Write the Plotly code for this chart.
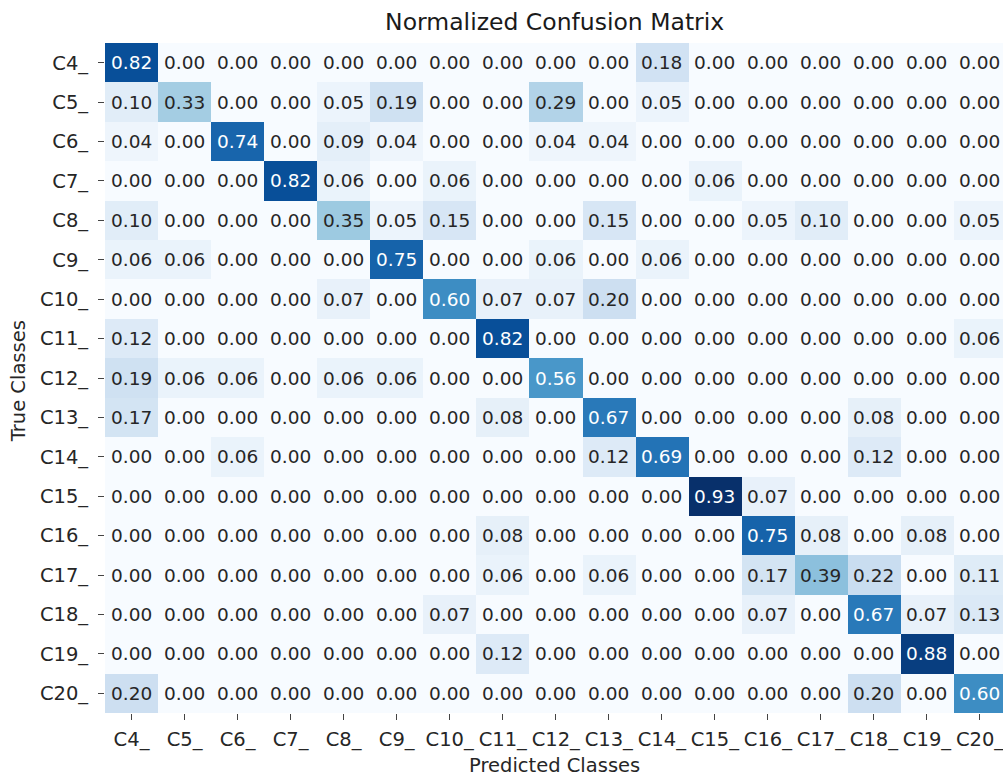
import plotly.graph_objects as go
from plotly.colors import sample_colorscale

classes = ["C4_", "C5_", "C6_", "C7_", "C8_", "C9_", "C10_", "C11_", "C12_",
           "C13_", "C14_", "C15_", "C16_", "C17_", "C18_", "C19_", "C20_"]

row_c4 = [0.82, 0, 0, 0, 0, 0, 0, 0, 0, 0, 0.18, 0, 0, 0, 0, 0, 0]
row_c5 = [0.10, 0.33, 0, 0, 0.05, 0.19, 0, 0, 0.29, 0, 0.05, 0, 0, 0, 0, 0, 0]
row_c6 = [0.04, 0, 0.74, 0, 0.09, 0.04, 0, 0, 0.04, 0.04, 0, 0, 0, 0, 0, 0, 0]
row_c7 = [0, 0, 0, 0.82, 0.06, 0, 0.06, 0, 0, 0, 0, 0.06, 0, 0, 0, 0, 0]
row_c8 = [0.10, 0, 0, 0, 0.35, 0.05, 0.15, 0, 0, 0.15, 0, 0, 0.05, 0.10, 0, 0, 0.05]
row_c9 = [0.06, 0.06, 0, 0, 0, 0.75, 0, 0, 0.06, 0, 0.06, 0, 0, 0, 0, 0, 0]
row_c10 = [0, 0, 0, 0, 0.07, 0, 0.60, 0.07, 0.07, 0.20, 0, 0, 0, 0, 0, 0, 0]
row_c11 = [0.12, 0, 0, 0, 0, 0, 0, 0.82, 0, 0, 0, 0, 0, 0, 0, 0, 0.06]
row_c12 = [0.19, 0.06, 0.06, 0, 0.06, 0.06, 0, 0, 0.56, 0, 0, 0, 0, 0, 0, 0, 0]
row_c13 = [0.17, 0, 0, 0, 0, 0, 0, 0.08, 0, 0.67, 0, 0, 0, 0, 0.08, 0, 0]
row_c14 = [0, 0, 0.06, 0, 0, 0, 0, 0, 0, 0.12, 0.69, 0, 0, 0, 0.12, 0, 0]
row_c15 = [0, 0, 0, 0, 0, 0, 0, 0, 0, 0, 0, 0.93, 0.07, 0, 0, 0, 0]
row_c16 = [0, 0, 0, 0, 0, 0, 0, 0.08, 0, 0, 0, 0, 0.75, 0.08, 0, 0.08, 0]
row_c17 = [0, 0, 0, 0, 0, 0, 0, 0.06, 0, 0.06, 0, 0, 0.17, 0.39, 0.22, 0, 0.11]
row_c18 = [0, 0, 0, 0, 0, 0, 0.07, 0, 0, 0, 0, 0, 0.07, 0, 0.67, 0.07, 0.13]
row_c19 = [0, 0, 0, 0, 0, 0, 0, 0.12, 0, 0, 0, 0, 0, 0, 0, 0.88, 0]
row_c20 = [0.20, 0, 0, 0, 0, 0, 0, 0, 0, 0, 0, 0, 0, 0, 0.20, 0, 0.60]

matrix = [row_c4, row_c5, row_c6, row_c7, row_c8, row_c9, row_c10, row_c11,
          row_c12, row_c13, row_c14, row_c15, row_c16, row_c17, row_c18,
          row_c19, row_c20]

blues = ["rgb(247,251,255)", "rgb(222,235,247)", "rgb(198,219,239)",
         "rgb(158,202,225)", "rgb(107,174,214)", "rgb(66,146,198)",
         "rgb(33,113,181)", "rgb(8,81,156)", "rgb(8,48,107)"]
cscale = [[i / 8, c] for i, c in enumerate(blues)]

zmin = min(min(r) for r in matrix)
zmax = max(max(r) for r in matrix)


def lum(rgbstr):
    vals = [float(v) / 255 for v in rgbstr[rgbstr.find("(") + 1:-1].split(",")]
    lin = [v / 12.92 if v <= 0.03928 else ((v + 0.055) / 1.055) ** 2.4 for v in vals]
    return 0.2126 * lin[0] + 0.7152 * lin[1] + 0.0722 * lin[2]


FONT = "DejaVu Sans"
TXT = "#262626"
fig = go.Figure()
fig.add_trace(go.Heatmap(
    z=matrix, x=classes, y=classes, colorscale=cscale, zmin=zmin, zmax=zmax,
    showscale=False, xgap=0, ygap=0, hoverinfo="skip"))

annotations = []
for i, row in enumerate(matrix):
    for j, v in enumerate(row):
        col = sample_colorscale(cscale, [(v - zmin) / (zmax - zmin)])[0]
        tc = TXT if lum(col) > 0.408 else "white"
        annotations.append(dict(x=classes[j], y=classes[i], text=f"{v:.2f}",
                                showarrow=False,
                                font=dict(family=FONT, size=18.5, color=tc)))

# axis titles
annotations.append(dict(text="Predicted Classes", xref="paper", yref="paper",
                        x=0.5, y=-0.079, xanchor="center", yanchor="middle",
                        showarrow=False, font=dict(family=FONT, size=19.5, color=TXT)))
annotations.append(dict(text="True Classes", xref="paper", yref="paper",
                        x=-0.097, y=0.495, xanchor="center", yanchor="middle",
                        textangle=-90, showarrow=False,
                        font=dict(family=FONT, size=19.5, color=TXT)))

fig.update_layout(
    width=1003, height=778,
    margin=dict(l=105, r=0, t=43, b=65),
    paper_bgcolor="white", plot_bgcolor="white",
    font=dict(family=FONT, color=TXT),
    title=dict(text="Normalized Confusion Matrix", x=0.553, xanchor="center",
               xref="container", yref="container",
               y=0.972, yanchor="middle", font=dict(family=FONT, size=23.5, color="#1a1a1a")),
    annotations=annotations,
)
fig.update_xaxes(tickfont=dict(size=19.5), ticks="outside", ticklen=6, tickcolor="#444",
                 ticklabelstandoff=3,
                 range=[-0.5, 16.434], automargin=False,
                 showgrid=False, zeroline=False, showline=False)
fig.update_yaxes(tickfont=dict(size=19.5), ticks="outside", ticklen=6, tickcolor="#444",
                 ticklabelstandoff=6,
                 range=[16.5, -0.5], automargin=False,
                 showgrid=False, zeroline=False, showline=False)

fig.write_html("out.html", config={"displayModeBar": False},
               post_script="document.body.style.margin='0';"
                           "document.body.style.overflow='hidden';")
